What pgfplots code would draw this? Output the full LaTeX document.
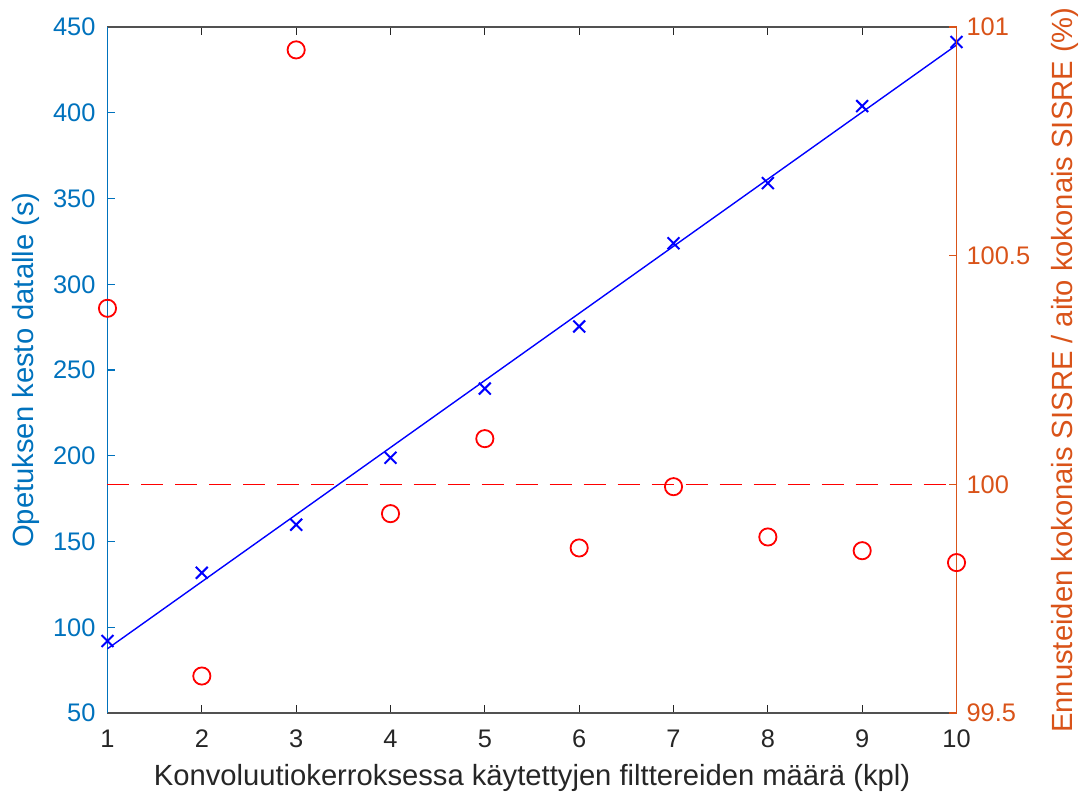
\documentclass[border=0pt]{standalone}
\usepackage{fontspec}
\setmainfont{Liberation Sans}
\usepackage{pgfplots}
\pgfplotsset{compat=1.18}

\definecolor{mlblue}{RGB}{0,114,189}
\definecolor{mlorange}{RGB}{217,83,25}
\definecolor{mlgray}{RGB}{38,38,38}

\begin{document}
\begin{tikzpicture}
\pgfplotsset{
  every axis/.append style={
    width=424.5pt, height=343pt, scale only axis,
    xmin=1, xmax=10,
    tick align=inside,
    major tick length=4pt,
    /pgf/number format/assume math mode=true,
    ticklabel style={font=\fontsize{12.7}{15}\selectfont},
    label style={font=\fontsize{14.6}{17}\selectfont},
  }
}
% left axis: training time
\begin{axis}[
  axis y line*=left,
  axis x line*=box,
  ymin=50, ymax=450,
  ytick={50,100,...,450},
  xtick={1,...,10},
  x axis line style={mlgray!80, line width=0.8pt},
  xtick style={mlgray, line width=0.6pt},
  xticklabel style={text=mlgray, yshift=-5pt},
  y axis line style={mlblue, line width=0.8pt},
  ytick style={mlblue, line width=0.6pt},
  yticklabel style={text=mlblue, xshift=-2.5pt},
  xlabel={Konvoluutiokerroksessa käytettyjen filttereiden määrä (kpl)},
  xlabel style={text=mlgray, at={(axis description cs:0.5,-0.0948)}, anchor=center},
  ylabel={Opetuksen kesto datalle (s)},
  ylabel style={text=mlblue, at={(axis description cs:-0.096,0.5)}, anchor=center, rotate=0},
  clip=false,
]
\addplot[blue, line width=0.7pt] coordinates {(1,87.5) (10,439.5)};
\addplot[only marks, mark=x, mark size=4.2pt, blue, mark options={line width=1pt}] coordinates {
  (1,92) (2,131.8) (3,159.8) (4,198.9) (5,239.2)
  (6,275.4) (7,323.9) (8,359) (9,403.9) (10,441.3)
};
\end{axis}
% right axis: SISRE ratio
\begin{axis}[
  axis y line*=right,
  axis x line=none,
  ymin=99.5, ymax=101,
  ytick={99.5,100,100.5,101},
  y axis line style={mlorange, line width=0.8pt},
  ytick style={mlorange, line width=0.6pt},
  yticklabel style={text=mlorange, xshift=1.5pt},
  ylabel={Ennusteiden kokonais SISRE / aito kokonais SISRE (\%)},
  ylabel style={text=mlorange, at={(axis description cs:1.1275,0.5)}, anchor=center},
  clip=false,
]
\addplot[red, line width=0.7pt, dash pattern=on 11pt off 6pt] coordinates {(1,100) (10,100)};
\addplot[only marks, mark=o, mark size=4.3pt, red, mark options={line width=0.9pt}] coordinates {
  (1,100.385) (2,99.581) (3,100.95) (4,99.936) (5,100.1)
  (6,99.861) (7,99.995) (8,99.885) (9,99.855) (10,99.829)
};
\path (axis description cs:-0.1266,-0.1239) rectangle (axis description cs:1.1584,1.0394);
\end{axis}
\end{tikzpicture}
\end{document}
